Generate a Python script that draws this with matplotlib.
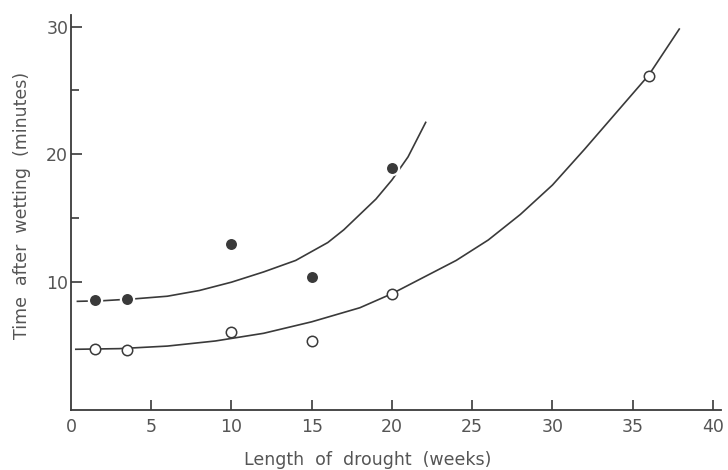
import matplotlib
matplotlib.use('Agg')
import matplotlib.pyplot as plt

# points measured (weeks of drought, minutes after wetting)
filled_x = [1.5, 3.5, 10, 15, 20]
filled_y = [8.6, 8.7, 13.0, 10.4, 18.9]
open_x = [1.5, 3.5, 10, 15, 20, 36]
open_y = [4.8, 4.7, 6.1, 5.4, 9.1, 26.1]

# hand drawn curves
filled_curve_x = [0.4, 2, 4, 6, 8, 10, 12, 14, 16, 17, 18, 19, 20, 21, 22.1]
filled_curve_y = [8.5, 8.55, 8.7, 8.9, 9.35, 10.0, 10.8, 11.7, 13.1, 14.1, 15.3, 16.5, 18.0, 19.8, 22.5]
open_curve_x = [0.3, 3, 6, 9, 12, 15, 18, 20, 22, 24, 26, 28, 30, 32, 34, 36, 37.9]
open_curve_y = [4.75, 4.8, 5.0, 5.4, 6.0, 6.9, 8.0, 9.1, 10.4, 11.7, 13.3, 15.3, 17.6, 20.4, 23.3, 26.2, 29.8]

xticks = [0, 5, 10, 15, 20, 25, 30, 35, 40]
yticks = [10, 20, 30]
yminor = [15, 25]

ink = '#3a3a3a'
txt = '#555555'

fig = plt.figure(figsize=(7.28, 4.70), dpi=100)
ax = fig.add_axes([71 / 728, 60 / 470, 650 / 728, 395 / 470])

ax.plot(filled_curve_x, filled_curve_y, color=ink, lw=1.2, zorder=2)
ax.plot(open_curve_x, open_curve_y, color=ink, lw=1.2, zorder=2)

# white edge on the dots gives the small gaps in the line
ax.plot(filled_x, filled_y, 'o', ms=9.5, mfc=ink, mec='white', mew=1.6, ls='none', zorder=3)
ax.plot(open_x, open_y, 'o', ms=7.5, mfc='white', mec=ink, mew=1.1, ls='none', zorder=3)

ax.set_xlim(0, 40.5)
ax.set_ylim(0, 30.9)

for s in ['top', 'right']:
    ax.spines[s].set_visible(False)
for s in ['left', 'bottom']:
    ax.spines[s].set_color(ink)
    ax.spines[s].set_linewidth(1.3)

ax.set_xticks(xticks)
ax.set_xticklabels([str(t) for t in xticks])
ax.set_yticks(yticks)
ax.set_yticklabels([str(t) for t in yticks])
ax.set_yticks(yminor, minor=True)

ax.tick_params(axis='x', direction='in', length=7, width=1.2, color=ink, pad=6,
               labelsize=12.5, labelcolor=txt)
ax.tick_params(axis='y', direction='in', length=8, width=1.2, color=ink, pad=2,
               labelsize=12.5, labelcolor=txt)
ax.tick_params(axis='y', which='minor', direction='in', length=6, width=1.2, color=ink)
# no tick mark at x = 0, only the label
ax.xaxis.get_major_ticks()[0].tick1line.set_visible(False)

fig.text(368 / 728, 1 - 460 / 470, 'Length  of  drought  (weeks)', ha='center', va='center',
         fontsize=12.5, color=txt)
fig.text(22 / 728, 1 - 205 / 470, 'Time  after  wetting  (minutes)', ha='center', va='center',
         rotation=90, fontsize=12.5, color=txt)

fig.savefig('out.png', dpi=100)
